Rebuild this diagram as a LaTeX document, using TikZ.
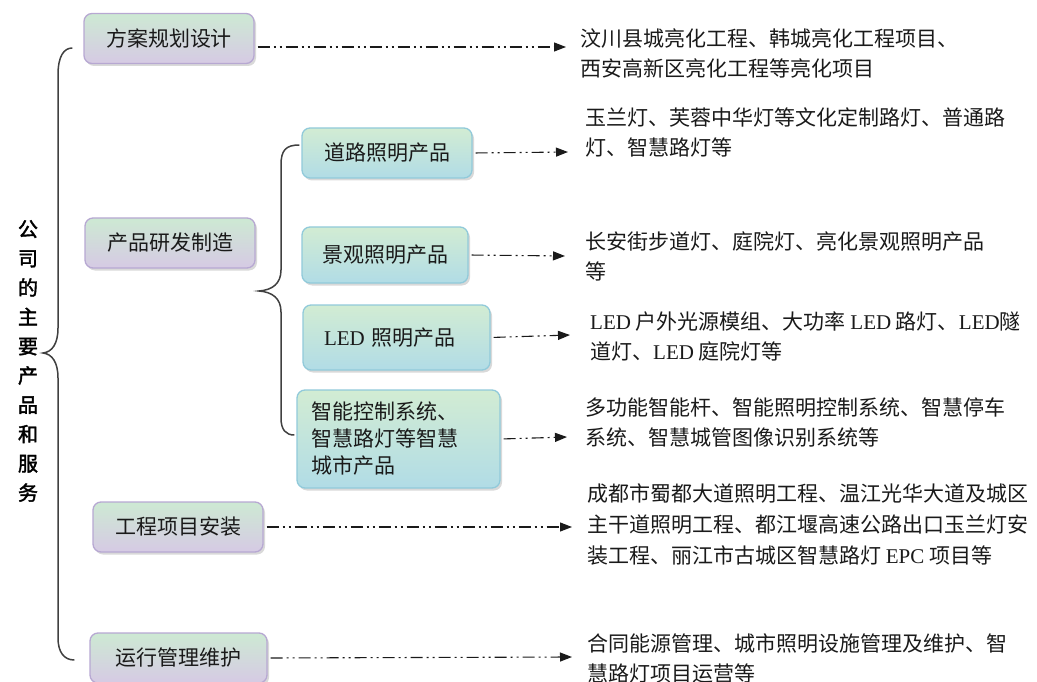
\documentclass[tikz,border=0pt]{standalone}
\usepackage{fontspec}
\setmainfont{Noto Sans CJK SC}
\newfontfamily\lat{Liberation Serif}
\newfontfamily\cjkb[FakeBold=2]{Noto Sans CJK SC}
\usetikzlibrary{shadows,arrows.meta,calc}
\definecolor{lvonetop}{HTML}{CDE9D3}
\definecolor{lvonebot}{HTML}{D6CAE4}
\definecolor{lvonebord}{HTML}{B7A8D2}
\definecolor{lvtwotop}{HTML}{D2ECD3}
\definecolor{lvtwobot}{HTML}{B1DCE6}
\definecolor{lvtwobord}{HTML}{91CADA}
\definecolor{inkc}{HTML}{1A1A1A}
\tikzset{
  boxbase/.style={rounded corners=8pt, line width=1.3pt, inner sep=0pt, text=inkc,
    drop shadow={opacity=0.3, shadow xshift=2pt, shadow yshift=-2.5pt},
    font=\fontsize{21}{27}\selectfont},
  lvone/.style={boxbase, draw=lvonebord, top color=lvonetop, bottom color=lvonebot,
    minimum width=170pt, minimum height=50pt},
  lvtwo/.style={boxbase, draw=lvtwobord, top color=lvtwotop, bottom color=lvtwobot},
  conn/.style={line width=1.1pt, draw=inkc, shorten <=3pt,
    dash pattern=on 12pt off 4pt on 2pt off 4pt on 2pt off 4pt,
    -{Triangle[length=12pt,width=9pt]}},
  bracel/.style={line width=1.5pt, draw=black!75},
  desc/.style={anchor=west, align=left, inner sep=0pt, text=inkc,
    font=\fontsize{21}{30}\selectfont},
}
\begin{document}
\begin{tikzpicture}[x=1pt,y=-1pt]
\useasboundingbox (0,0) rectangle (1037,682);
% title
\node[align=center, inner sep=0pt, font=\cjkb\fontsize{20}{29.3}\selectfont] (title) at (28,361)
  {公\\司\\的\\主\\要\\产\\品\\和\\服\\务};
% level one
\node[lvone] (b1) at (169,38.5) {方案规划设计};
\node[lvone] (b2) at (170,243) {产品研发制造};
\node[lvone] (b3) at (178,527) {工程项目安装};
\node[lvone, minimum width=177pt] (b4) at (178.5,658) {运行管理维护};
% level two
\node[lvtwo, minimum width=170pt, minimum height=50pt] (c1) at (387,153) {道路照明产品};
\node[lvtwo, minimum width=166pt, minimum height=56pt] (c2) at (385,255) {景观照明产品};
\node[lvtwo, minimum width=187pt, minimum height=65pt, text width=145pt, align=left] (c3) at (396.5,337.5) {{\lat LED} 照明产品};
\node[lvtwo, minimum width=203pt, minimum height=98pt, text width=175pt, align=left] (c4) at (398.5,439)
  {智能控制系统、\\智慧路灯等智慧\\城市产品};
% braces
\draw[bracel] ($(b1.west)+(-11,9.5)$) .. controls (64,48) and (58,56) .. (58,75)
  -- (58,328) .. controls (58,344) and (52,352) .. (43,353)
  .. controls (52,354) and (58,362) .. (58,378)
  -- (58,638) .. controls (58,652) and (64,660) .. ($(b4.west)+(-15,2)$);
\draw[bracel] ($(c1.west)+(-2,-8)$) .. controls (286,145) and (281,150) .. (281,165)
  -- (281,270) .. controls (281,284) and (272,290) .. (259,291)
  .. controls (272,292) and (281,298) .. (281,312)
  -- (281,418) .. controls (281,430) and (286,435) .. ($(c4.west)+(-2,-4)$);
% descriptions
\node[desc] (t1) at (580,53) {汶川县城亮化工程、韩城亮化工程项目、\\西安高新区亮化工程等亮化项目};
\node[desc] (t2) at (585,132) {玉兰灯、芙蓉中华灯等文化定制路灯、普通路\\灯、智慧路灯等};
\node[desc] (t3) at (585,256) {长安街步道灯、庭院灯、亮化景观照明产品\\等};
\node[desc] (t4) at (590,336) {{\lat LED} 户外光源模组、大功率 {\lat LED} 路灯、{\lat LED}隧\\道灯、{\lat LED} 庭院灯等};
\node[desc] (t5) at (585,422.5) {多功能智能杆、智能照明控制系统、智慧停车\\系统、智慧城管图像识别系统等};
\node[desc, font=\fontsize{21}{31}\selectfont] (t6) at (587,524) {成都市蜀都大道照明工程、温江光华大道及城区\\主干道照明工程、都江堰高速公路出口玉兰灯安\\装工程、丽江市古城区智慧路灯 {\lat EPC} 项目等};
\node[desc] (t7) at (587,658) {合同能源管理、城市照明设施管理及维护、智\\慧路灯项目运营等};
% connectors
\coordinate (e1) at (566,47);
\coordinate (e2) at (568,152);
\coordinate (e3) at (565,256);
\coordinate (e4) at (570,335);
\coordinate (e5) at (567,437);
\coordinate (e6) at (572,527);
\coordinate (e7) at (572,657);
\draw[conn] ($(b1.east)+(0,8.5)$) -- (e1);
\draw[conn] (c1.east) -- (e2);
\draw[conn] (c2.east) -- (e3);
\draw[conn] (c3.east) -- (e4);
\draw[conn] (c4.east) -- (e5);
\draw[conn] (b3.east) -- (e6);
\draw[conn] (b4.east) -- (e7);
\end{tikzpicture}
\end{document}
